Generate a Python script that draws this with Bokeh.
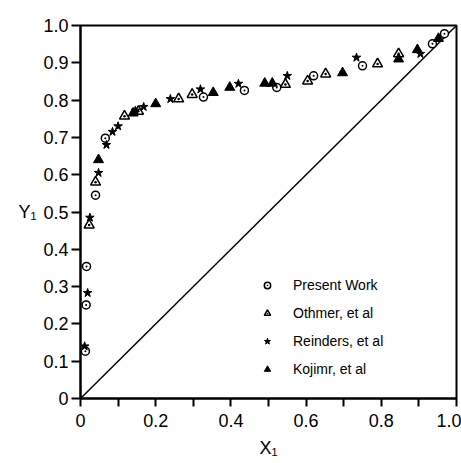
from bokeh.plotting import figure
from bokeh.models import FixedTicker, Legend, LegendItem, Label
from bokeh.embed import file_html
from bokeh.resources import INLINE

# ---- data ----
present_x = [0.013, 0.015, 0.016, 0.040, 0.066, 0.327, 0.436, 0.522, 0.620, 0.750, 0.936, 0.968]
present_y = [0.127, 0.251, 0.354, 0.545, 0.698, 0.808, 0.826, 0.834, 0.865, 0.892, 0.951, 0.978]

othmer_x = [0.023, 0.040, 0.117, 0.154, 0.261, 0.297, 0.545, 0.604, 0.652, 0.790, 0.846]
othmer_y = [0.465, 0.580, 0.757, 0.770, 0.803, 0.815, 0.842, 0.851, 0.870, 0.897, 0.924]

reinders_x = [0.011, 0.019, 0.025, 0.048, 0.069, 0.085, 0.100, 0.146, 0.168, 0.239, 0.319, 0.420, 0.550, 0.734, 0.904]
reinders_y = [0.140, 0.283, 0.485, 0.605, 0.680, 0.715, 0.730, 0.772, 0.782, 0.803, 0.829, 0.844, 0.865, 0.914, 0.924]

kojima_x = [0.048, 0.140, 0.200, 0.353, 0.397, 0.490, 0.510, 0.697, 0.846, 0.896, 0.952]
kojima_y = [0.640, 0.765, 0.790, 0.820, 0.834, 0.845, 0.845, 0.873, 0.910, 0.935, 0.965]

diag_x = [0.0, 1.0]
diag_y = [0.0, 1.0]

x_ticks = [0, 0.1, 0.2, 0.3, 0.4, 0.5, 0.6, 0.7, 0.8, 0.9, 1.0]
x_tick_labels = ["0", "", "0.2", "", "0.4", "", "0.6", "", "0.8", "", "1.0"]
y_ticks = [0, 0.1, 0.2, 0.3, 0.4, 0.5, 0.6, 0.7, 0.8, 0.9, 1.0]
y_tick_labels = ["0", "0.1", "0.2", "0.3", "0.4", "0.5", "0.6", "0.7", "0.8", "0.9", "1.0"]

series_labels = ["Present Work", "Othmer, et al", "Reinders, et al", "Kojimr, et al"]

FONT = "Liberation Sans"

p = figure(width=461, height=460, output_backend="svg", toolbar_location=None,
           x_range=(0, 1), y_range=(0, 1),
           min_border_left=80, min_border_top=25, min_border_right=5, min_border_bottom=60)
p.background_fill_color = "white"
p.border_fill_color = "white"
p.grid.visible = False
p.outline_line_color = "black"
p.outline_line_width = 2

for ax in (p.xaxis[0], p.yaxis[0]):
    ax.axis_line_width = 2
    ax.axis_line_color = "black"
    ax.major_tick_line_width = 2
    ax.major_tick_line_color = "black"
    ax.major_tick_in = 0
    ax.minor_tick_line_color = None
    ax.major_label_text_font = FONT
    ax.major_label_text_font_size = "18px"
    ax.major_label_text_color = "black"
    ax.axis_label_text_color = "black"
    ax.axis_label_text_font = FONT
    ax.axis_label_text_font_style = "normal"
    ax.axis_label_text_font_size = "18px"

p.xaxis.ticker = FixedTicker(ticks=x_ticks)
p.xaxis.major_label_overrides = dict(zip(x_ticks, x_tick_labels))
p.xaxis.major_tick_out = 8
p.xaxis.major_label_standoff = 7
p.xaxis.axis_label = "X\u2081"
p.xaxis.axis_label_standoff = 8

p.yaxis.ticker = FixedTicker(ticks=y_ticks)
p.yaxis.major_label_overrides = dict(zip(y_ticks, y_tick_labels))
p.yaxis.major_tick_out = 9
p.yaxis.major_label_standoff = 3

yax = p.yaxis[0]
try:
    yax.axis_label_orientation = "horizontal"
    yax.axis_label = "Y\u2081"
    yax.axis_label_standoff = 4
except Exception:
    ylab = Label(x=25, y=245, x_units="screen", y_units="screen", text="Y\u2081",
                 text_font=FONT, text_font_size="18px", text_color="black",
                 text_align="left", text_baseline="middle")
    p.add_layout(ylab)

p.line(diag_x, diag_y, line_color="black", line_width=1.5)

r1 = p.scatter(present_x, present_y, marker="circle_dot", size=8, fill_color="white",
               line_color="black", line_width=1.5)
r2 = p.scatter(othmer_x, othmer_y, marker="triangle_dot", size=10, fill_color="white",
               line_color="black", line_width=1.5)
r3 = p.scatter(reinders_x, reinders_y, marker="star", size=9, fill_color="black",
               line_color="black", line_width=1)
r4 = p.scatter(kojima_x, kojima_y, marker="triangle", size=10, fill_color="black",
               line_color="black", line_width=1)

legend = Legend(items=[LegendItem(label=lab, renderers=[r]) for lab, r in
                       zip(series_labels, [r1, r2, r3, r4])],
                location=(179, 19), orientation="vertical",
                glyph_width=16, glyph_height=20, label_height=20, spacing=8,
                label_standoff=18, padding=0, margin=0,
                border_line_color=None, background_fill_alpha=0,
                label_text_font=FONT, label_text_font_size="14px",
                label_text_color="black")
p.add_layout(legend)

open("out.html", "w").write(file_html(p, INLINE))
